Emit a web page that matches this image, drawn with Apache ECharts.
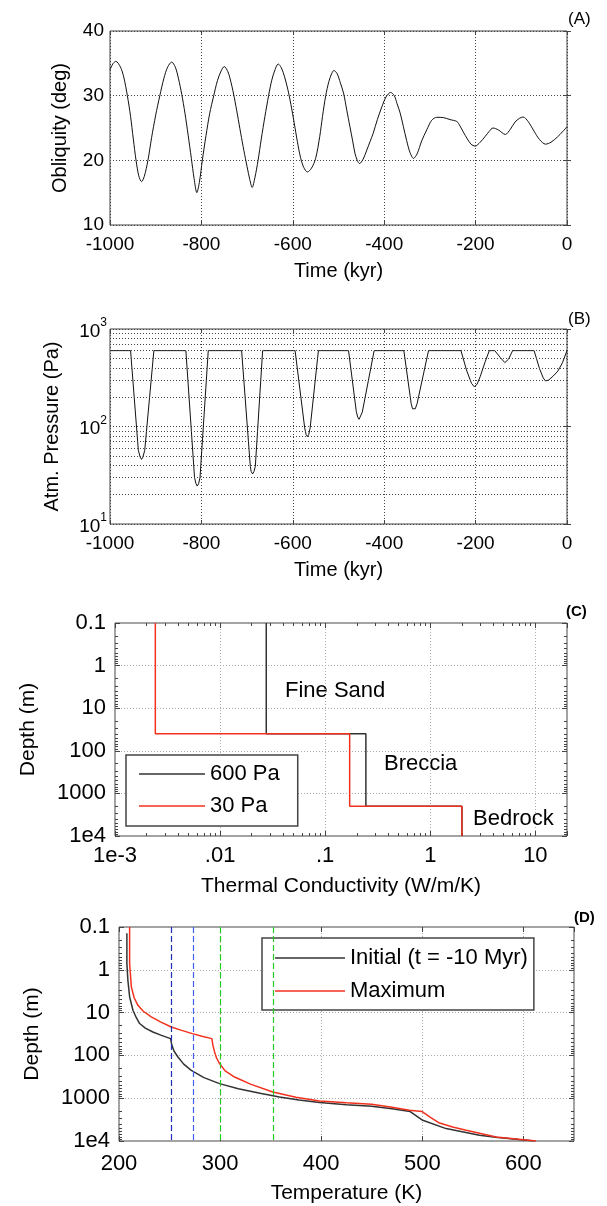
<!DOCTYPE html>
<html><head><meta charset="utf-8">
<script src="https://cdn.jsdelivr.net/npm/echarts@6/dist/echarts.min.js"></script>
<style>html,body{margin:0;padding:0;background:#fff}#c{width:607px;height:1206px}</style>
</head><body><div id="c"></div>
<script>
// ---- Panel A: obliquity [time kyr, deg]
const obliquity = [
 [-1000,34.0],[-993,35.0],[-987,35.3],[-977,34.4],[-970,32.9],[-962,30.0],[-955,26.8],[-949,23.3],
 [-943,20.0],[-937,17.6],[-931,16.7],[-925,17.5],[-917,20.0],[-909,23.5],[-900,27.0],[-891,30.0],
 [-882,32.7],[-874,34.4],[-865,35.2],[-857,34.4],[-850,32.6],[-843,30.2],[-836,27.3],[-829,23.9],
 [-822,20.3],[-816,17.2],[-810,15.0],[-804,16.8],[-798,20.0],[-790,23.8],[-782,27.2],[-773,30.0],
 [-765,32.3],[-757,33.8],[-750,34.5],[-742,33.7],[-735,32.0],[-728,29.7],[-721,27.0],[-714,24.2],
 [-707,21.5],[-700,19.0],[-694,17.0],[-689,15.8],[-683,17.3],[-676,20.0],[-669,23.3],[-661,26.8],
 [-653,30.0],[-646,32.4],[-639,34.0],[-632,34.9],[-625,34.3],[-618,32.9],[-611,31.0],[-604,28.6],
 [-597,25.8],[-590,22.9],[-583,20.4],[-576,18.9],[-568,18.2],[-559,18.8],[-550,20.3],[-541,23.7],
 [-535,26.8],[-528,30.0],[-521,32.2],[-515,33.4],[-510,33.9],[-503,33.4],[-496,32.0],[-489,30.4],
 [-482,27.8],[-475,25.2],[-469,23.0],[-464,21.1],[-459,20.0],[-454,19.5],[-446,20.2],[-438,21.6],
 [-431,22.9],[-424,24.2],[-415,26.3],[-405,28.3],[-396,29.8],[-386,30.5],[-378,30.0],[-372,28.8],
 [-365,27.3],[-358,25.2],[-351,23.1],[-344,21.3],[-336,20.3],[-328,21.0],[-318,23.0],[-307,24.7],
 [-296,26.2],[-285,26.65],[-270,26.6],[-256,26.3],[-241,26.0],[-234,25.3],[-227,24.4],[-218,23.3],
 [-210,22.5],[-201,22.2],[-190,22.8],[-179,23.7],[-170,24.5],[-162,25.0],[-150,24.7],[-135,24.0],
 [-124,24.8],[-114,25.9],[-104,26.5],[-96,26.7],[-85,26.0],[-72,24.5],[-60,23.2],[-47,22.5],
 [-35,22.8],[-21,23.6],[-10,24.4],[0,25.2]
];
// ---- Panel B: atmospheric pressure [time kyr, Pa]
const pressure = [
 [-1000,600],[-955,600],[-938,57],[-934,48.5],[-931,46],[-928,48.5],[-924,57],[-904,600],
 [-834,600],[-815,30],[-812,26],[-809,24.5],[-806,26],[-803,30],[-785,600],
 [-712,600],[-693,39],[-691,34.5],[-688,32.6],[-685,34.5],[-682,39],[-666,600],
 [-595,600],[-574,97],[-571,83],[-568,78.6],[-565,83],[-562,97],[-544,600],
 [-478,600],[-461,142],[-458,125],[-455,118.5],[-452,124],[-448,140],[-422,600],
 [-357,600],[-341,172],[-338,152],[-335,145],[-332,152],[-328,172],[-303,600],
 [-232,600],[-220,380],[-209,277],[-203,256],[-197,270],[-190,324],[-179,462],[-170,600],
 [-158,600],[-146,510],[-136,452],[-128,490],[-119,600],
 [-72,600],[-60,390],[-52,315],[-47,293],[-40,300],[-30,330],[-20,370],[-10,450],[0,600]
];
// ---- Panel C: thermal conductivity profiles [W/m/K, depth m]
const cond600Pa = [[0.0275,0.1],[0.0275,40],[0.244,40],[0.244,2000],[2,2000],[2,10000]];
const cond30Pa  = [[0.00242,0.1],[0.00242,40],[0.171,40],[0.171,2000],[2,2000],[2,10000]];
const layerNames = ['Fine Sand','Breccia','Bedrock'];
// ---- Panel D: temperature profiles [K, depth m]
const tempInitial = [
 [207.8,0.14],[207.8,0.72],[208.8,1.76],[210.5,4.3],[213.8,8.8],[217,13],[220.4,18],[226,23],[233.5,28.4],
 [242,34],[251,40.6],[252.3,58],[254.5,80],[258.3,109],[264,160],[271.5,223],[284,330],[299.4,456],
 [318,600],[340.7,781],[358.7,935],[378,1100],[398.3,1265],[425,1420],[449.8,1549],[470,1760],
 [488,2050],[500.4,3280],[523.5,5130],[556.5,7360],[574.5,8330],[595.4,9270],[611,10000]
];
const tempMaximum = [
 [210.5,0.1],[210.5,0.72],[212.2,2.5],[215,4.5],[218.7,6.75],[224,9.3],[231.9,12.6],[241,16.5],
 [251.7,21.7],[262,26],[272.5,31],[282,35.5],[291.8,40.6],[293,60],[294.5,83],[296.5,115],[299.4,155],
 [305,230],[314.3,320],[330,470],[352.1,716],[375,950],[398.3,1160],[425,1280],[449.8,1390],
 [470,1620],[487.3,1920],[499.8,2050],[508,2800],[517,3800],[530,4700],[543.4,5620],[573,8070],[612.6,10000]
];
const refTemps = [252, 273, 300, 353];
const refColors = ['#1f2fb8', '#3f5fee', '#22cc22', '#22cc22'];
const pressureMinorGrid = [20,30,40,50,60,70,80,90,200,300,400,500,600,700,800,900];

const FF = "'Liberation Sans', Arial, sans-serif";
const panelLabels = ['(A)','(B)','(C)','(D)'];

const grids = [
 {left:110, top:31,  width:457, height:194},
 {left:110, top:329, width:457, height:195},
 {left:115, top:623, width:452, height:213},
 {left:119, top:927, width:455, height:214}
];
grids.forEach(g => { g.show = true; g.borderColor = '#444'; g.borderWidth = 1; g.backgroundColor='#fff'; });

const darkDot = {show:true, lineStyle:{type:[1,2], color:'#444', width:1}};
const lightDot = {show:true, lineStyle:{type:[1,2], color:'#aaa', width:1}};

function dup(ax){ // top/right mirror axis with inside ticks only
  return Object.assign({}, ax, {
    position: ax.position==='bottom'?'top':(ax.position==='left'?'right':ax.position),
    name:'', axisLabel:{show:false}, splitLine:{show:false}, axisLine:{show:false}
  });
}

const xA = {type:'value', gridIndex:0, position:'bottom', min:-1000, max:0, interval:200,
  axisLine:{show:false}, axisTick:{inside:true, length:4, lineStyle:{color:'#444'}},
  axisLabel:{color:'#000', fontSize:19, fontFamily:FF, margin:10, formatter: v => String(v)},
  splitLine:darkDot, name:'Time (kyr)', nameLocation:'middle', nameGap:36,
  nameTextStyle:{color:'#000', fontSize:20, fontFamily:FF}};
const yA = {type:'value', gridIndex:0, position:'left', min:10, max:40, interval:10,
  axisLine:{show:false}, axisTick:{inside:true, length:4, lineStyle:{color:'#444'}},
  axisLabel:{color:'#000', fontSize:19, fontFamily:FF, margin:6},
  splitLine:darkDot, name:'Obliquity (deg)', nameLocation:'middle', nameGap:40,
  nameTextStyle:{color:'#000', fontSize:20, fontFamily:FF}};
const xB = Object.assign({}, xA, {gridIndex:1});
const yB = {type:'log', gridIndex:1, position:'left', min:10, max:1000, logBase:10,
  axisLine:{show:false}, axisTick:{inside:true, length:4, lineStyle:{color:'#444'}},
  axisLabel:{color:'#000', fontFamily:FF, margin:3,
    formatter: v => '{b|10}{s|' + Math.round(Math.log10(v)) + '}',
    rich:{b:{fontSize:19, fontFamily:FF, color:'#000', lineHeight:24, verticalAlign:'bottom'},
          s:{fontSize:12, fontFamily:FF, color:'#000', lineHeight:24, verticalAlign:'top'}}},
  splitLine:darkDot, name:'Atm. Pressure (Pa)', nameLocation:'middle', nameGap:48,
  nameTextStyle:{color:'#000', fontSize:20, fontFamily:FF}};
const condLabels = {0.001:'1e-3', 0.01:'.01', 0.1:'.1', 1:'1', 10:'10'};
const minorT = {show:true, splitNumber:9, length:3, lineStyle:{color:'#444'}};
const xC = {type:'log', gridIndex:2, position:'bottom', min:0.001, max:20,
  axisLine:{show:false}, axisTick:{inside:true, length:5, lineStyle:{color:'#444'}},
  minorTick:minorT,
  axisLabel:{color:'#000', fontSize:22, fontFamily:FF, margin:9, showMaxLabel:false,
    formatter: v => { for (const k in condLabels) { if (Math.abs(v/k-1) < 1e-6) return condLabels[k]; } return ''; }},
  splitLine:lightDot, name:'Thermal Conductivity (W/m/K)', nameLocation:'middle', nameGap:40,
  nameTextStyle:{color:'#000', fontSize:21, fontFamily:FF}};
const depthFmt = v => (Math.abs(v-10000) < 1e-3 ? '1e4' : String(+v.toPrecision(3)));
const yC = {type:'log', gridIndex:2, position:'left', min:0.1, max:10000, inverse:true,
  axisLine:{show:false}, axisTick:{inside:true, length:5, lineStyle:{color:'#444'}},
  minorTick:minorT,
  axisLabel:{color:'#000', fontSize:22, fontFamily:FF, margin:9, formatter:depthFmt},
  splitLine:lightDot, name:'Depth (m)', nameLocation:'middle', nameGap:76,
  nameTextStyle:{color:'#000', fontSize:21, fontFamily:FF}};
const xD = {type:'value', gridIndex:3, position:'bottom', min:200, max:650, interval:100,
  axisLine:{show:false}, axisTick:{inside:true, length:5, lineStyle:{color:'#444'}},
  axisLabel:{color:'#000', fontSize:22, fontFamily:FF, margin:12, showMaxLabel:false},
  splitLine:lightDot, name:'Temperature (K)', nameLocation:'middle', nameGap:42,
  nameTextStyle:{color:'#000', fontSize:21, fontFamily:FF}};
const yD = Object.assign({}, yC, {gridIndex:3, name:'Depth (m)', nameGap:76});

const chart = echarts.init(document.getElementById('c'), null, {renderer:'canvas'});
const option = {
  animation:false,
  backgroundColor:'#fff',
  grid: grids,
  xAxis:[xA, dup(xA), xB, dup(xB), xC, dup(xC), xD, dup(xD)],
  yAxis:[yA, dup(yA), yB, dup(yB), yC, dup(yC), yD, dup(yD)],
  legend:[
    {data:['600 Pa','30 Pa'], left:126, top:755, orient:'vertical', icon:'rect', itemWidth:66, itemHeight:1.5,
     itemGap:10, padding:[8,18,9,13], borderColor:'#444', borderWidth:1.5, backgroundColor:'#fff',
     textStyle:{fontSize:22, color:'#000', fontFamily:FF}, selectedMode:false},
    {data:['Initial (t = -10 Myr)','Maximum'], left:262, top:938, orient:'vertical', icon:'rect', itemWidth:70, itemHeight:1.5,
     itemGap:11, padding:[9,6,8,13], borderColor:'#444', borderWidth:1.5, backgroundColor:'#fff',
     textStyle:{fontSize:22, color:'#000', fontFamily:FF}, selectedMode:false}
  ],
  series:[
    {type:'line', name:'obliquity', xAxisIndex:0, yAxisIndex:0, data:obliquity, smooth:0.3,
     symbol:'none', lineStyle:{color:'#111', width:1}},
    {type:'line', name:'pressure', xAxisIndex:2, yAxisIndex:2, data:pressure, symbol:'none',
     lineStyle:{color:'#111', width:1},
     markLine:{silent:true, symbol:'none', label:{show:false}, animation:false,
       lineStyle:{type:[1,2], color:'#444', width:1},
       data: pressureMinorGrid.map(v => ({yAxis:v}))}},
    {type:'line', name:'600 Pa', xAxisIndex:4, yAxisIndex:4, data:cond600Pa, symbol:'none',
     lineStyle:{color:'#333', width:1.5}, itemStyle:{color:'#333'}},
    {type:'line', name:'30 Pa', xAxisIndex:4, yAxisIndex:4, data:cond30Pa, symbol:'none',
     lineStyle:{color:'#f2301e', width:1.5}, itemStyle:{color:'#f2301e'}},
    {type:'line', name:'Initial (t = -10 Myr)', xAxisIndex:6, yAxisIndex:6, data:tempInitial, symbol:'none',
     lineStyle:{color:'#333', width:1.5}, itemStyle:{color:'#333'},
     markLine:{silent:true, symbol:'none', label:{show:false}, animation:false,
       data: refTemps.map((v,i) => ({xAxis:v, lineStyle:{type:[6,3], color:refColors[i], width:1.2}}))}},
    {type:'line', name:'Maximum', xAxisIndex:6, yAxisIndex:6, data:tempMaximum, symbol:'none',
     lineStyle:{color:'#f2301e', width:1.5}, itemStyle:{color:'#f2301e'}}
  ],
  graphic:[
    {type:'text', left:568, top:11, style:{text:panelLabels[0], font:'17px '+FF, fill:'#000'}},
    {type:'text', left:568, top:311, style:{text:panelLabels[1], font:'17px '+FF, fill:'#000'}},
    {type:'text', left:566, top:604, style:{text:panelLabels[2], font:'bold 15px '+FF, fill:'#000'}},
    {type:'text', left:574, top:910, style:{text:panelLabels[3], font:'bold 15px '+FF, fill:'#000'}},
    {type:'text', left:285, top:680, style:{text:layerNames[0], font:'22px '+FF, fill:'#000'}},
    {type:'text', left:384, top:753, style:{text:layerNames[1], font:'22px '+FF, fill:'#000'}},
    {type:'text', left:473, top:808, style:{text:layerNames[2], font:'22px '+FF, fill:'#000'}}
  ]
};
chart.setOption(option);
</script></body></html>
